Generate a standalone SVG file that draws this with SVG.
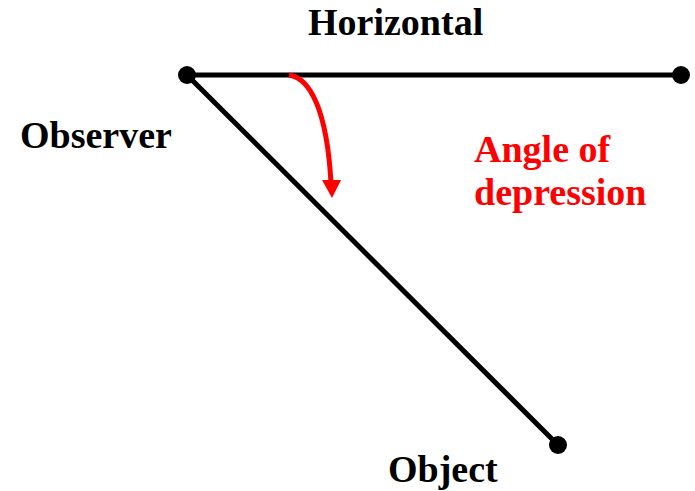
<svg xmlns="http://www.w3.org/2000/svg" width="695" height="491" viewBox="0 0 695 491">
<defs>
<style>
.lbl{font-family:"Liberation Serif","Times New Roman",serif;font-weight:bold;font-size:38px;fill:#000}
.red{fill:#ff0000}
.ln{stroke:#000;stroke-width:5;fill:none}
.dot{fill:#000}
</style>
</defs>
<rect width="695" height="491" fill="#fff"/>
<g id="connectors">
<line class="ln" x1="187" y1="75" x2="681" y2="75"/>
<line class="ln" x1="187" y1="75" x2="558" y2="445"/>
<path d="M289,75 C310,78 327,110 331,183" stroke="#ff0000" stroke-width="5" fill="none"/>
<path d="M322,180 L341,180 L332,198 Z" fill="#ff0000"/>
</g>
<g id="observer"><circle class="dot" cx="187" cy="75" r="9"/><text class="lbl" x="20" y="148">Observer</text></g>
<g id="horizontal-end"><circle class="dot" cx="681" cy="75" r="9"/></g>
<g id="object"><circle class="dot" cx="558" cy="445" r="9"/><text class="lbl" x="388" y="482">Object</text></g>
<g id="horizontal-label"><text class="lbl" x="308" y="35">Horizontal</text></g>
<g id="angle-label"><text class="lbl red" x="474" y="162">Angle of</text><text class="lbl red" x="474" y="205">depression</text></g>
</svg>
